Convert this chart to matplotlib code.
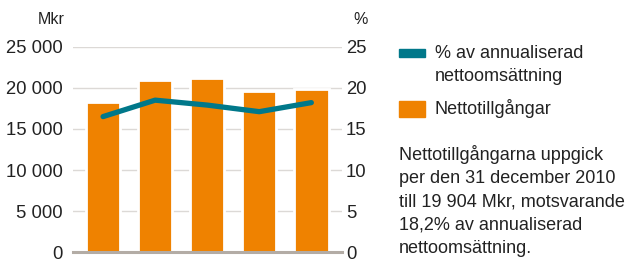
import matplotlib
matplotlib.use("Agg")
import matplotlib.pyplot as plt
from matplotlib.patches import Rectangle

plt.rcParams["font.family"] = ["Liberation Sans", "DejaVu Sans"]

ORANGE = "#ef8200"
TEAL = "#00788a"
GRID = "#dcd9d6"
BASE = "#b3aca5"
TEXT = "#222222"

# Data
periods = ["Q1", "Q2", "Q3", "Q4", "Q5"]
nettotillgangar = [18300, 20900, 21150, 19650, 19904]
andel_pct = [16.5, 18.5, 17.9, 17.1, 18.2]
left_ticks = [0, 5000, 10000, 15000, 20000, 25000]
right_ticks = [0, 5, 10, 15, 20, 25]

fig = plt.figure(figsize=(6.28, 2.59), dpi=100)
ax = fig.add_axes([72.7 / 628, 6.7 / 259, 269 / 628, 205.6 / 259])
x = list(range(len(periods)))

for t in left_ticks[1:]:
    ax.axhline(t, color=GRID, lw=1.0, zorder=1)
ax.bar(x, nettotillgangar, width=0.66, color=ORANGE, edgecolor="white",
       linewidth=2.0, zorder=2)
ax.axhline(0, color=BASE, lw=2.2, zorder=3, clip_on=False)

ax.set_xlim(-0.583, 4.583)
ax.set_ylim(0, 25000)
ax.set_yticks(left_ticks)
ax.set_yticklabels([f"{v:,}".replace(",", " ") for v in left_ticks])
ax.set_xticks([])
for s in ax.spines.values():
    s.set_visible(False)
ax.tick_params(axis="y", length=0, pad=7, labelsize=13.3, labelcolor=TEXT)

ax2 = ax.twinx()
ax2.plot(x, andel_pct, color=TEAL, lw=3.8, solid_capstyle="round",
         solid_joinstyle="round", zorder=4)
ax2.set_ylim(0, 25)
ax2.set_yticks(right_ticks)
ax2.tick_params(axis="y", length=0, pad=3, labelsize=13.3, labelcolor=TEXT)
for s in ax2.spines.values():
    s.set_visible(False)

fig.text(65 / 628, 1 - 20 / 259, "Mkr", ha="right", va="center",
         fontsize=11.5, color=TEXT)
fig.text(353 / 628, 1 - 20 / 259, "%", ha="left", va="center",
         fontsize=11.5, color=TEXT)

# Legend
fig.patches.append(Rectangle((399 / 628, 1 - 57 / 259), 26 / 628, 8 / 259,
                             transform=fig.transFigure, color=TEAL))
fig.patches.append(Rectangle((399 / 628, 1 - 116.7 / 259), 26 / 628, 16 / 259,
                             transform=fig.transFigure, color=ORANGE))
fig.text(435 / 628, 1 - 53 / 259, "% av annualiserad", ha="left", va="center",
         fontsize=13.0, color=TEXT)
fig.text(435 / 628, 1 - 76 / 259, "nettoomsättning", ha="left", va="center",
         fontsize=13.0, color=TEXT)
fig.text(435 / 628, 1 - 108 / 259, "Nettotillgångar", ha="left", va="center",
         fontsize=13.0, color=TEXT)

note = [
    "Nettotillgångarna uppgick",
    "per den 31 december 2010",
    "till 19 904 Mkr, motsvarande",
    "18,2% av annualiserad",
    "nettoomsättning.",
]
for i, line in enumerate(note):
    fig.text(399 / 628, 1 - (155 + 23.3 * i) / 259, line, ha="left",
             va="center", fontsize=13.0, color=TEXT)

fig.savefig("out.png", dpi=100)
